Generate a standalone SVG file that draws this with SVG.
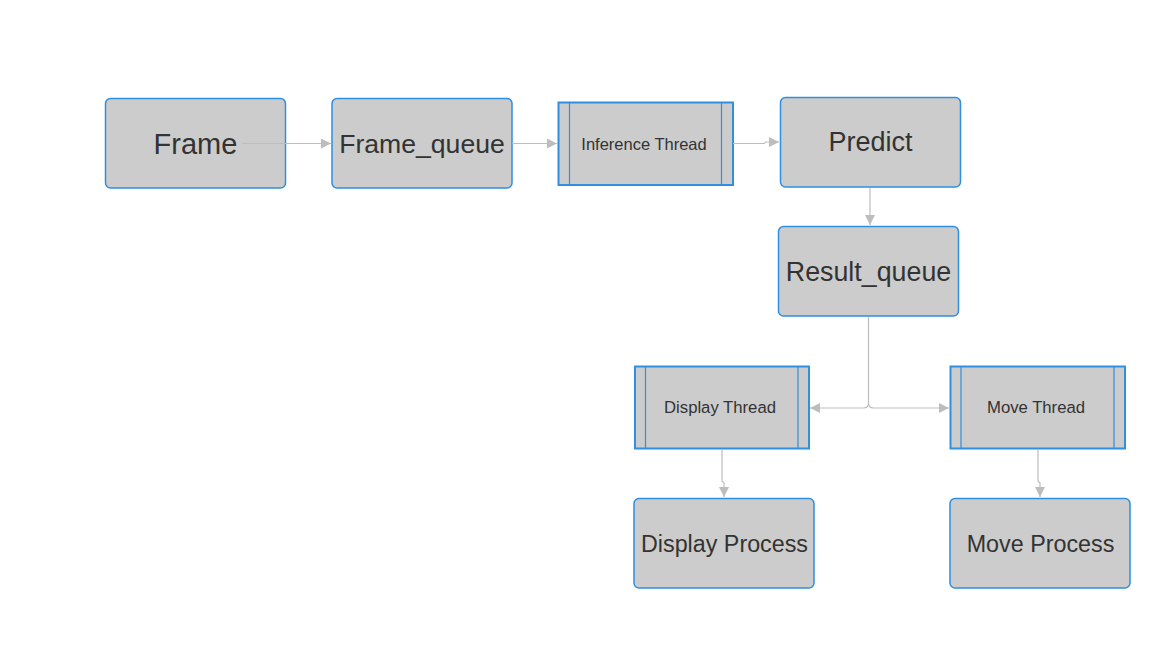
<svg xmlns="http://www.w3.org/2000/svg" width="1172" height="648" viewBox="0 0 1172 648">
<style>
.box{fill:#cccccc;stroke:#2f8fe0;stroke-width:1.5}
.thr{fill:#cccccc;stroke:#2f8fe0;stroke-width:2}
.inl{stroke:#2f8fe0;stroke-width:1.2;fill:none}
.t{font-family:"Liberation Sans",Arial,sans-serif;fill:#333333;text-anchor:middle;dominant-baseline:central}
.c{fill:none;stroke:#bdbdbd;stroke-width:1.2}
</style>
<defs>
<marker id="ah" viewBox="0 0 10 10" refX="10" refY="5" markerWidth="10" markerHeight="10" markerUnits="userSpaceOnUse" orient="auto">
<path d="M0,0 L10,5 L0,10 Z" fill="#bdbdbd"/>
</marker>
</defs>
<rect width="1172" height="648" fill="#ffffff"/>
<g id="frame">
<rect class="box" x="105.5" y="98.5" width="180" height="89.5" rx="5"/>
<text class="t" x="195.5" y="143.5" font-size="29">Frame</text>
</g>
<g id="frame_queue">
<rect class="box" x="332" y="98.5" width="180" height="89.5" rx="5"/>
<text class="t" x="422" y="143.5" font-size="26.6">Frame_queue</text>
</g>
<g id="inference_thread">
<rect class="thr" x="558.5" y="102.5" width="174.5" height="82.5"/>
<line class="inl" x1="569.5" y1="102.5" x2="569.5" y2="185"/>
<line class="inl" x1="721.5" y1="102.5" x2="721.5" y2="185"/>
<text class="t" x="644" y="143.5" font-size="16.5">Inference Thread</text>
</g>
<g id="predict">
<rect class="box" x="780.5" y="97.5" width="180" height="89.5" rx="5"/>
<text class="t" x="870.5" y="142" font-size="27">Predict</text>
</g>
<g id="result_queue">
<rect class="box" x="778.5" y="226.5" width="180" height="89.5" rx="5"/>
<text class="t" x="868.5" y="271.5" font-size="26.8">Result_queue</text>
</g>
<g id="display_thread">
<rect class="thr" x="635" y="366.5" width="174" height="82"/>
<line class="inl" x1="645.5" y1="366.5" x2="645.5" y2="448.5"/>
<line class="inl" x1="798" y1="366.5" x2="798" y2="448.5"/>
<text class="t" x="720" y="407.5" font-size="16.7">Display Thread</text>
</g>
<g id="move_thread">
<rect class="thr" x="950.5" y="366.5" width="174.5" height="82"/>
<line class="inl" x1="961" y1="366.5" x2="961" y2="448.5"/>
<line class="inl" x1="1114" y1="366.5" x2="1114" y2="448.5"/>
<text class="t" x="1036" y="407.5" font-size="16.7">Move Thread</text>
</g>
<g id="display_process">
<rect class="box" x="634" y="498.5" width="180" height="89.5" rx="5"/>
<text class="t" x="724.5" y="544" font-size="23.3">Display Process</text>
</g>
<g id="move_process">
<rect class="box" x="950" y="498.5" width="180" height="89.5" rx="5"/>
<text class="t" x="1040.5" y="544" font-size="23.3">Move Process</text>
</g>
<g id="connectors">
<path class="c" d="M242,143.5 H331" marker-end="url(#ah)"/>
<path class="c" d="M512,143.5 H557" marker-end="url(#ah)"/>
<path class="c" d="M733,143.5 H764 L766,142 H779" marker-end="url(#ah)"/>
<path class="c" d="M870,188 V225" marker-end="url(#ah)"/>
<path class="c" d="M868.5,317 V403 Q868.5,408 863.5,408 H810" marker-end="url(#ah)"/>
<path class="c" d="M868.5,403 Q868.5,408 873.5,408 H949" marker-end="url(#ah)"/>
<path class="c" d="M722,449 V481 L724,483 V497" marker-end="url(#ah)"/>
<path class="c" d="M1038,449 V481 L1040,483 V497" marker-end="url(#ah)"/>
</g>
</svg>
